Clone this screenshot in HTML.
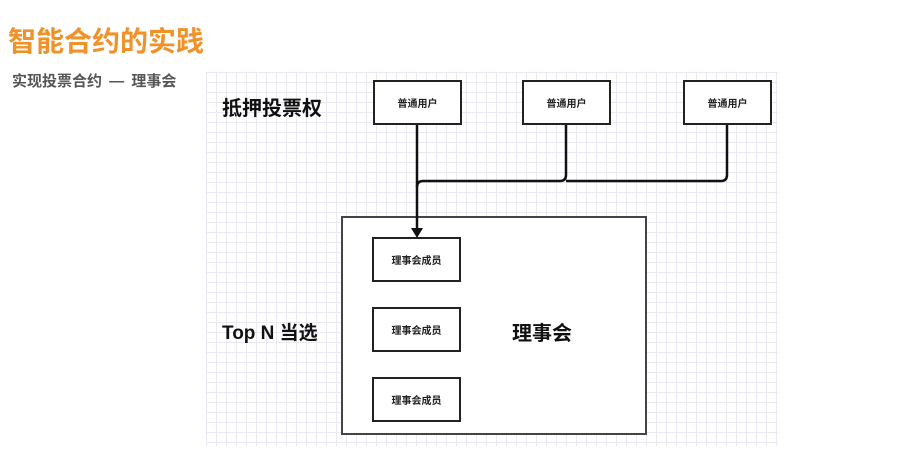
<!DOCTYPE html>
<html><head><meta charset="utf-8"><style>
body{margin:0;width:918px;height:455px;background:#fff;position:relative;overflow:hidden;font-family:"Liberation Sans","Noto Sans CJK SC",sans-serif}
.t{position:absolute;white-space:nowrap}
.grid{position:absolute;left:206px;top:72px;width:572px;height:374px;
background-image:linear-gradient(#e9e9f4 1px,transparent 1px),linear-gradient(90deg,#e9e9f4 1px,transparent 1px);
background-size:10px 10px;}
.b{position:absolute;background:#fff;border:2px solid #222;box-sizing:border-box;display:flex;align-items:center;justify-content:center;font-size:10px;font-weight:bold;color:#222}
</style></head><body>
<div class="t" style="left:8px;top:20px;font-size:28px;font-weight:bold;color:#f0922a">智能合约的实践</div>
<div class="t" style="left:12px;top:70px;font-size:15px;color:#555;font-weight:bold;word-spacing:3px">实现投票合约 — 理事会</div>
<div class="grid"></div>
<div class="t" style="left:222px;top:92px;font-size:20px;font-weight:bold;color:#111">抵押投票权</div>
<div class="t" style="left:222px;top:318px;font-size:19px;font-weight:bold;color:#111">Top N 当选</div>
<div class="b" style="left:341px;top:216px;width:306px;height:219px;border:2px solid #444"></div>
<div class="t" style="left:512px;top:317px;font-size:20px;font-weight:bold;color:#111">理事会</div>
<div class="b" style="left:373px;top:80px;width:89px;height:45px">普通用户</div>
<div class="b" style="left:522px;top:80px;width:89px;height:45px">普通用户</div>
<div class="b" style="left:683px;top:80px;width:89px;height:45px">普通用户</div>
<div class="b" style="left:372px;top:237px;width:89px;height:45px">理事会成员</div>
<div class="b" style="left:372px;top:307px;width:89px;height:45px">理事会成员</div>
<div class="b" style="left:372px;top:377px;width:89px;height:45px">理事会成员</div>
<svg style="position:absolute;left:0;top:0" width="918" height="455">
<g fill="none" stroke="#111" stroke-width="2.5">
<path d="M417 125 V230"/>
<path d="M566 125 V175 Q566 181 560 181 H423 Q417 181 417 187"/>
<path d="M727 125 V175 Q727 181 721 181 H566"/>
</g>
<path d="M411 228 L417 238 L423 228 Z" fill="#111"/>
</svg>
</body></html>
